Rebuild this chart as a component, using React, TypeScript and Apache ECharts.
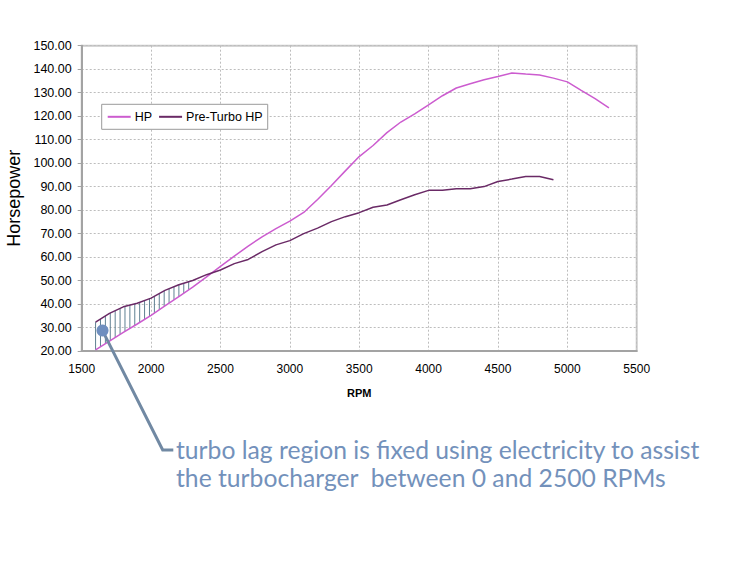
import { useEffect, useRef } from 'react'
import * as echarts from 'echarts'

// RPM steps and horsepower
const hpRpm = [
  1600, 1700, 1800, 1900, 2000, 2100, 2200, 2300, 2400, 2500, 2600, 2700, 2800, 2900, 3000, 3100, 3200, 3300, 3400,
  3500, 3600, 3700, 3800, 3900, 4000, 4100, 4200, 4300, 4400, 4500, 4600, 4700, 4800, 4900, 5000, 5100, 5200, 5300,
]
const hpValues = [
  20.5, 24.2, 27.9, 31.5, 35.2, 39.2, 43.2, 47.2, 51.6, 56.0, 60.4, 64.7, 68.6, 72.1, 75.3, 79.0, 84.5, 90.5, 96.7,
  102.8, 107.5, 113.0, 117.5, 121.0, 124.8, 128.7, 132.0, 133.8, 135.5, 136.9, 138.4, 137.9, 137.5, 136.2, 134.6,
  131.0, 127.5, 123.5,
]
const preRpm = [
  1600, 1700, 1800, 1900, 2000, 2100, 2200, 2300, 2400, 2500, 2600, 2700, 2800, 2900, 3000, 3100, 3200, 3300, 3400,
  3500, 3600, 3700, 3800, 3900, 4000, 4100, 4200, 4300, 4400, 4500, 4600, 4700, 4800, 4900,
]
const preValues = [
  32.3, 36.0, 38.8, 40.3, 42.5, 45.8, 48.2, 50.0, 52.5, 54.5, 57.2, 59.0, 62.3, 65.2, 67.0, 70.0, 72.3, 75.1, 77.2,
  78.9, 81.2, 82.2, 84.4, 86.5, 88.4, 88.4, 89.1, 89.1, 90.0, 92.2, 93.2, 94.3, 94.3, 92.9,
]
const seriesNames = ['HP', 'Pre-Turbo HP']
const hatchRange = [1600, 2300]
const annotationAt = [1650, 28.7]
const annotationLines = [
  'turbo lag region is fixed using electricity to assist',
  'the turbocharger  between 0 and 2500 RPMs',
]

const FONT = 'Arial, "Liberation Sans", sans-serif'
const NOTE_COLOR = '#7391bb'

function lerpY(pts: number[][], x: number): number {
  for (let i = 0; i < pts.length - 1; i++) {
    const a = pts[i]
    const b = pts[i + 1]
    if (x >= a[0] && x <= b[0]) {
      const t = b[0] === a[0] ? 0 : (x - a[0]) / (b[0] - a[0])
      return a[1] + (b[1] - a[1]) * t
    }
  }
  return pts[pts.length - 1][1]
}

export default function App() {
  const hostRef = useRef<HTMLDivElement | null>(null)

  useEffect(() => {
    const host = hostRef.current
    if (!host) return
    const chart = echarts.init(host, undefined, { renderer: 'svg' })

    const hpData = hpRpm.map((r, i) => [r, hpValues[i]])
    const preData = preRpm.map((r, i) => [r, preValues[i]])

    // vertical hatching between the two curves over the lag range
    const hatchItem = (params: any, api: any) => {
      const top: number[][] = []
      const bottom: number[][] = []
      preRpm.forEach((r, i) => {
        if (r < hatchRange[0] || r > hatchRange[1]) return
        const j = hpRpm.indexOf(r)
        top.push(api.coord([r, preValues[i]]))
        bottom.push(api.coord([r, hpValues[j]]))
      })
      const children: any[] = []
      const x0 = top[0][0]
      const x1 = top[top.length - 1][0]
      for (let x = x0; x <= x1 + 0.01; x += 4.9) {
        children.push({
          type: 'line',
          shape: { x1: x, y1: lerpY(top, x), x2: x, y2: lerpY(bottom, x) },
          style: { stroke: '#5f8092', lineWidth: 1 },
        })
      }
      return { type: 'group', children }
    }

    chart.setOption({
      animation: false,
      textStyle: { fontFamily: FONT },
      grid: {
        left: 81.7,
        right: 110.3,
        top: 45.7,
        bottom: 216,
        outerBoundsMode: 'none',
        containLabel: false,
        show: true,
        borderColor: '#c9c9c9',
        borderWidth: 2,
      },
      legend: {
        data: seriesNames,
        left: 101.7,
        top: 104.3,
        orient: 'horizontal',
        icon: 'rect',
        padding: [6, 5, 6, 6],
        itemGap: 7,
        itemWidth: 23,
        itemHeight: 2,
        backgroundColor: '#fff',
        borderColor: '#9a9a9a',
        borderWidth: 1,
        borderRadius: 0,
        textStyle: { fontFamily: FONT, fontSize: 12.5, color: '#000', padding: [0, 0, 0, -1] },
      },
      xAxis: {
        type: 'value',
        min: 1500,
        max: 5500,
        interval: 500,
        name: 'RPM',
        nameLocation: 'middle',
        nameGap: 36,
        nameTextStyle: { fontFamily: FONT, fontSize: 11, fontWeight: 'bold', color: '#000' },
        axisLine: { lineStyle: { color: '#a3a3a3', width: 2 } },
        axisTick: { show: false },
        axisLabel: { fontFamily: FONT, fontSize: 12, color: '#000', margin: 12, formatter: (v: number) => String(v) },
        splitLine: { lineStyle: { color: '#bdbdbd', type: [2, 2], width: 1 } },
      },
      yAxis: {
        type: 'value',
        min: 20,
        max: 150,
        interval: 10,
        name: 'Horsepower',
        nameLocation: 'middle',
        nameGap: 59,
        nameRotate: 90,
        nameTextStyle: { fontFamily: FONT, fontSize: 18, color: '#000' },
        axisLine: { show: true, lineStyle: { color: '#a3a3a3', width: 2 } },
        axisTick: { show: true, length: 4, lineStyle: { color: '#a3a3a3' } },
        axisLabel: {
          fontFamily: FONT,
          fontSize: 12.5,
          color: '#000',
          margin: 10,
          formatter: (v: number) => v.toFixed(2),
        },
        splitLine: { lineStyle: { color: '#bdbdbd', type: [2, 2], width: 1 } },
      },
      series: [
        {
          name: 'turbo lag',
          type: 'custom',
          coordinateSystem: 'cartesian2d',
          renderItem: hatchItem,
          data: [[hatchRange[0], annotationAt[1]]],
          silent: true,
          z: 1,
        },
        {
          name: seriesNames[0],
          type: 'line',
          data: hpData,
          symbol: 'none',
          lineStyle: { color: '#cc5ccf', width: 1.5 },
          itemStyle: { color: '#cc5ccf' },
          z: 3,
        },
        {
          name: seriesNames[1],
          type: 'line',
          data: preData,
          symbol: 'none',
          lineStyle: { color: '#6a2a66', width: 1.5 },
          itemStyle: { color: '#6a2a66' },
          z: 3,
        },
      ],
    })

    const [dx, dy] = chart.convertToPixel({ gridIndex: 0 }, annotationAt) as number[]
    chart.setOption({
      graphic: [
        {
          type: 'polyline',
          shape: { points: [[dx, dy], [162.7, 450], [173.3, 450]] },
          style: { stroke: '#7189a3', lineWidth: 3, fill: null },
          z: 10,
        },
        {
          type: 'circle',
          shape: { cx: dx, cy: dy, r: 6 },
          style: { fill: '#6f8fbf' },
          z: 11,
        },
        ...annotationLines.map((line, i) => ({
          type: 'text',
          x: 176,
          y: 449.5 + i * 28.4,
          style: {
            text: line,
            fill: NOTE_COLOR,
            font: '24.7px Lato, "Open Sans", sans-serif',
            verticalAlign: 'middle',
            align: 'left',
          },
          z: 10,
        })),
      ],
    })

    return () => {
      chart.dispose()
    }
  }, [])

  return (
    <div
      ref={hostRef}
      style={{ position: 'fixed', left: 0, top: 0, width: 747, height: 567, background: '#fff' }}
    />
  )
}
